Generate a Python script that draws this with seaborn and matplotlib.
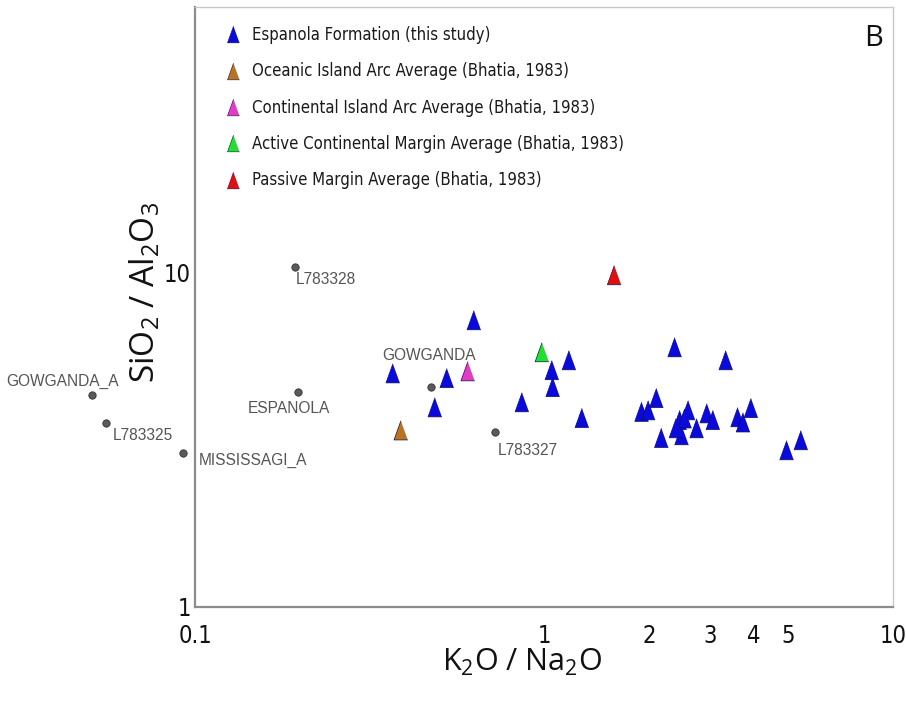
import matplotlib
matplotlib.use("Agg")
import matplotlib.pyplot as plt
import seaborn as sns
import pandas as pd
from matplotlib.lines import Line2D
from matplotlib import font_manager as fm

# ---------------- data ----------------
espanola_x = [0.630, 0.369, 0.527, 0.487, 1.054, 1.18, 1.06, 0.865, 1.285,
              2.37, 3.32, 1.905, 1.99, 2.10, 2.17, 2.45, 2.48, 2.59, 2.74,
              2.93, 3.05, 3.59, 3.72, 3.92, 4.96, 5.45, 2.53, 2.39]
espanola_y = [7.19, 4.99, 4.83, 3.95, 5.10, 5.46, 4.54, 4.09, 3.67,
              5.97, 5.46, 3.83, 3.87, 4.21, 3.20, 3.62, 3.26, 3.87, 3.42,
              3.79, 3.62, 3.69, 3.56, 3.93, 2.94, 3.15, 3.66, 3.42]

avg_names = ["Oceanic Island Arc Average (Bhatia, 1983)",
             "Continental Island Arc Average (Bhatia, 1983)",
             "Active Continental Margin Average (Bhatia, 1983)",
             "Passive Margin Average (Bhatia, 1983)"]
avg_x = [0.389, 0.605, 0.987, 1.59]
avg_y = [3.37, 5.06, 5.77, 9.8]

ref_names = ["L783328", "GOWGANDA", "ESPANOLA", "L783327",
             "GOWGANDA_A", "L783325", "MISSISSAGI_A"]
ref_x = [0.194, 0.474, 0.197, 0.724, 0.0507, 0.0556, 0.0924]
ref_y = [10.35, 4.54, 4.38, 3.33, 4.29, 3.54, 2.88]

espanola_name = "Espanola Formation (this study)"
x_ticks = [0.1, 1, 2, 3, 4, 5, 10]
x_ticklabels = ["0.1", "1", "2", "3", "4", "5", "10"]
y_ticks = [1, 10]
y_ticklabels = ["1", "10"]

# ---------------- styling ----------------
sns.set_theme(style="white")
plt.rcParams["mathtext.default"] = "regular"


def pick_narrow():
    for fam, stretch in [("Liberation Sans Narrow", "normal"),
                         ("DejaVu Sans", "condensed"),
                         ("Roboto Condensed", "normal")]:
        try:
            p = fm.findfont(fm.FontProperties(family=fam, stretch=stretch),
                            fallback_to_default=False)
            low = p.lower()
            if "narrow" in low or "condensed" in low:
                return fm.FontProperties(fname=p), True
        except Exception:
            pass
    return fm.FontProperties(family="Liberation Sans"), False


narrow_fp, is_narrow = pick_narrow()
plt.rcParams["font.family"] = ["Liberation Sans", "DejaVu Sans"]

leg_size = 12 if is_narrow else 11.2
tick_size = 17 if is_narrow else 15

colors = {espanola_name: "#0A0ADC",
          avg_names[0]: "#B87420",
          avg_names[1]: "#E23CC4",
          avg_names[2]: "#22E030",
          avg_names[3]: "#E01010"}
tri = [(0, 1), (-0.72, -1), (0.72, -1)]

tri_df = pd.DataFrame({
    "x": espanola_x + avg_x,
    "y": espanola_y + avg_y,
    "group": [espanola_name] * len(espanola_x) + avg_names,
})
ref_df = pd.DataFrame({"x": ref_x, "y": ref_y, "name": ref_names})

fig = plt.figure(figsize=(9.06, 7.04), dpi=100)
ax = fig.add_axes([195 / 906, 1 - 607 / 704, (893 - 195) / 906, (607 - 7) / 704])

sns.scatterplot(data=ref_df, x="x", y="y", ax=ax, color="#5a5a5a",
                edgecolor="#333333", linewidth=0.6, s=28, clip_on=False,
                legend=False, zorder=3)
sns.scatterplot(data=tri_df, x="x", y="y", hue="group", palette=colors,
                hue_order=[espanola_name] + avg_names, marker=tri, s=190,
                edgecolor="#101050", linewidth=0.5, ax=ax, legend=False,
                zorder=4)

ax.set_xscale("log")
ax.set_yscale("log")
ax.set_xlim(0.1, 10)
ax.set_ylim(1, 62)

ax.set_xticks(x_ticks)
ax.set_xticklabels(x_ticklabels)
ax.set_yticks(y_ticks)
ax.set_yticklabels(y_ticklabels)
ax.minorticks_off()
ax.tick_params(axis="both", length=0, colors="#111111")
ax.tick_params(axis="x", pad=12)
ax.tick_params(axis="y", pad=3)
for lab in ax.get_xticklabels() + ax.get_yticklabels():
    lab.set_fontproperties(narrow_fp)
    lab.set_fontsize(tick_size)

for side in ["left", "bottom"]:
    ax.spines[side].set_color("#8c8c8c")
    ax.spines[side].set_linewidth(1.6)
for side in ["top", "right"]:
    ax.spines[side].set_color("#c8c8c8")
    ax.spines[side].set_linewidth(1.0)

ax.set_xlabel("K$_2$O / Na$_2$O", fontsize=22, family=["Open Sans", "DejaVu Sans"],
              color="#111111")
ax.xaxis.set_label_coords(0.469, -0.066)
ax.set_ylabel("SiO$_2$ / Al$_2$O$_3$", fontsize=24, family=["Open Sans", "DejaVu Sans"],
              color="#111111")
ax.yaxis.set_label_coords(-0.047, 0.525)

# labels for reference points (offsets in points)
offsets = {"L783328": (0, -9, "left"),
           "GOWGANDA": (-1, 23, "center"),
           "ESPANOLA": (-6, -12, "center"),
           "L783327": (2, -13, "left"),
           "GOWGANDA_A": (-21, 10, "center"),
           "L783325": (5, -9, "left"),
           "MISSISSAGI_A": (11, -5, "left")}
for nm, xv, yv in zip(ref_names, ref_x, ref_y):
    dx, dy, ha = offsets[nm]
    ax.annotate(nm, (xv, yv), xytext=(dx, dy), textcoords="offset points",
                ha=ha, va="center", fontsize=11.2, color="#555555",
                family=["Liberation Sans", "DejaVu Sans"],
                annotation_clip=False)

# legend
handles = [Line2D([], [], linestyle="none", marker=tri, markersize=12,
                  markerfacecolor=colors[g], markeredgecolor="#101050",
                  markeredgewidth=0.4)
           for g in [espanola_name] + avg_names]
leg = ax.legend(handles, [espanola_name] + avg_names, loc="upper left",
                bbox_to_anchor=(0.03, 0.985), frameon=False, prop=narrow_fp,
                handlelength=0.8, handletextpad=0.75,
                labelspacing=1.1, borderaxespad=0.2)
for t in leg.get_texts():
    t.set_fontsize(leg_size)
    t.set_color("#1a1a1a")

ax.text(0.985, 0.948, "B", transform=ax.transAxes, ha="right", va="center",
        fontsize=21, family=["Open Sans", "DejaVu Sans"], color="#111111")

fig.savefig("out.png", dpi=100)
